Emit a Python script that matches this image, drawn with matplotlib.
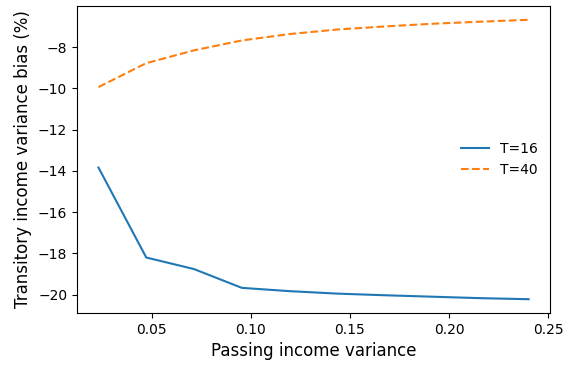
import numpy as np
import matplotlib
matplotlib.use("Agg")
import matplotlib.pyplot as plt

# passing income variance grid
var_grid = [0.0232, 0.0473, 0.0714, 0.0955, 0.1196, 0.1438, 0.1679, 0.1920, 0.2161, 0.2402]
bias_T16 = [-13.84, -18.20, -18.76, -19.67, -19.83, -19.95, -20.03, -20.10, -20.17, -20.22]
bias_T40 = [-9.94, -8.78, -8.16, -7.68, -7.37, -7.15, -7.00, -6.87, -6.77, -6.68]

fig = plt.figure(figsize=(5.66, 3.65), dpi=100)
ax = fig.add_axes([0.136, 0.142, 0.836, 0.842])

ax.plot(var_grid, bias_T16, '-', color='C0', label='T=16')
ax.plot(var_grid, bias_T40, '--', color='C1', label='T=40')

ax.set_xlabel('Passing income variance', fontsize=12)
ax.set_ylabel('Transitory income variance bias (%)', fontsize=12)
ax.set_xticks([0.05, 0.10, 0.15, 0.20, 0.25])
ax.set_xticklabels(['0.05', '0.10', '0.15', '0.20', '0.25'])
ax.legend(loc='center right', frameon=False)

fig.savefig('out.png', dpi=100)
